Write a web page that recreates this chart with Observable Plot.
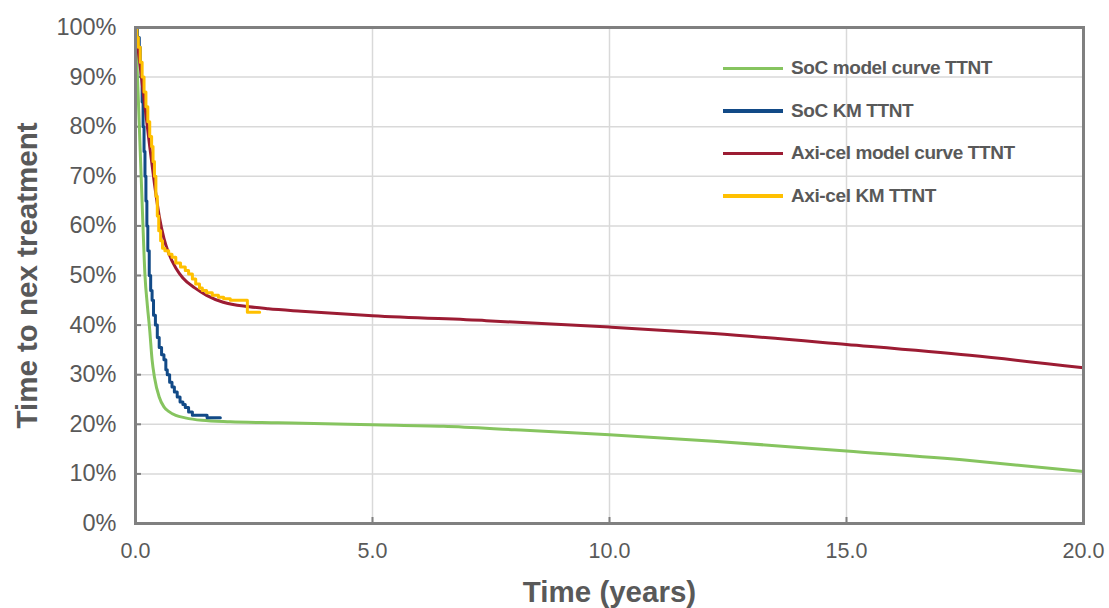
<!DOCTYPE html>
<html>
<head>
<meta charset="utf-8">
<script src="https://cdn.jsdelivr.net/npm/d3@7"></script>
<script src="https://cdn.jsdelivr.net/npm/@observablehq/plot@0.6"></script>
<style>
  html, body { margin: 0; padding: 0; background: #fff; }
  #wrap { position: relative; width: 1109px; height: 608px; font-family: "Liberation Sans", Arial, sans-serif; }
  #legend { position: absolute; left: 723px; top: 47px; }
  .item { display: flex; align-items: center; height: 42.5px; }
  .sw { width: 60px; height: 3.5px; margin-right: 8px; }
  .lab { font-size: 19px; font-weight: bold; color: #595959; letter-spacing: -0.4px; white-space: nowrap; }
</style>
</head>
<body>
<div id="wrap"></div>
<script>
// ---- Data ----
const socModelTime = [0, 0.05, 0.1, 0.15, 0.2, 0.25, 0.3, 0.35, 0.4, 0.5, 0.6, 0.7, 0.85, 1.05, 1.4, 2, 3, 4, 5, 6.5, 8, 10, 12.2, 15, 17.6, 20];
const socModelSurv = [100, 88, 75, 62, 50, 44, 39, 33, 29.5, 25.5, 23.5, 22.6, 21.8, 21.3, 20.8, 20.5, 20.3, 20.1, 19.9, 19.6, 18.9, 17.9, 16.6, 14.6, 12.7, 10.5];

const socKMTime = [0, 0.04, 0.08, 0.1, 0.12, 0.14, 0.16, 0.18, 0.2, 0.22, 0.24, 0.26, 0.29, 0.32, 0.35, 0.38, 0.42, 0.46, 0.5, 0.55, 0.6, 0.64, 0.67, 0.72, 0.77, 0.82, 0.88, 0.94, 1.0, 1.05, 1.12, 1.2, 1.51, 1.79];
const socKMSurv = [100, 98, 96, 93, 90, 85, 80, 75, 70, 65, 60, 55, 50, 47, 45, 42, 40, 37.5, 35.5, 34, 33, 31, 30, 28.5, 27.5, 26.5, 25.5, 24.5, 24, 23.4, 22.5, 21.8, 21.3, 21.3];

const axiModelTime = [0, 0.1, 0.2, 0.3, 0.4, 0.5, 0.6, 0.7, 0.85, 1.0, 1.25, 1.5, 1.85, 2.4, 2.8, 3.5, 5, 7.4, 10, 12.2, 15, 17.6, 20];
const axiModelSurv = [100, 92, 84, 76, 68.5, 62, 57.5, 54.5, 51.5, 49.5, 47.5, 46, 44.6, 43.7, 43.3, 42.8, 41.9, 40.9, 39.6, 38.3, 36.1, 33.9, 31.4];

const axiKMTime = [0, 0.03, 0.06, 0.1, 0.14, 0.18, 0.22, 0.26, 0.3, 0.34, 0.37, 0.4, 0.43, 0.46, 0.49, 0.53, 0.57, 0.62, 0.7, 0.77, 0.85, 0.95, 1.05, 1.12, 1.2, 1.27, 1.35, 1.41, 1.5, 1.62, 1.75, 1.86, 2.0, 2.36, 2.62];
const axiKMSurv = [100, 98, 96, 93, 90, 87, 84, 81, 78, 76, 73, 70, 66, 62, 59, 57, 55.5, 55, 54.3, 53.7, 52.5, 51.7, 51, 50.3, 49.3, 48.3, 47.5, 47, 46.5, 46, 45.6, 45.3, 45, 42.6, 42.6];

const seriesNames = ["SoC model curve TTNT", "SoC KM TTNT", "Axi-cel model curve TTNT", "Axi-cel KM TTNT"];
const seriesColors = ["#86C45F", "#124A87", "#9C1C33", "#FFC000"];

const xTicks = [0, 5, 10, 15, 20];
const xTickLabels = ["0.0", "5.0", "10.0", "15.0", "20.0"];
const yTicks = [0, 10, 20, 30, 40, 50, 60, 70, 80, 90, 100];
const yTickLabels = ["0%", "10%", "20%", "30%", "40%", "50%", "60%", "70%", "80%", "90%", "100%"];

const toRows = (t, s) => t.map((d, i) => ({t: d, s: s[i]}));
const socModel = toRows(socModelTime, socModelSurv);
const socKM = toRows(socKMTime, socKMSurv);
const axiModel = toRows(axiModelTime, axiModelSurv);
const axiKM = toRows(axiKMTime, axiKMSurv);

const gridColor = "#D9D9D9";
const textColor = "#595959";
const frameColor = "#808080";

const chart = Plot.plot({
  width: 1109,
  height: 608,
  marginLeft: 135,
  marginRight: 26,
  marginTop: 27,
  marginBottom: 85,
  style: {fontFamily: "'Liberation Sans', Arial, sans-serif", background: "#fff", color: textColor, overflow: "visible"},
  x: {domain: [0, 20]},
  y: {domain: [0, 100]},
  marks: [
    Plot.gridY(yTicks, {stroke: gridColor, strokeOpacity: 1, strokeWidth: 1.5}),
    Plot.gridX(xTicks.slice(1, -1), {stroke: gridColor, strokeOpacity: 1, strokeWidth: 1.5}),
    Plot.axisY(yTicks, {tickSize: 0, tickPadding: 19, tickFormat: d => yTickLabels[yTicks.indexOf(d)], fontSize: 23.5, fill: textColor, label: null}),
    Plot.axisY(yTicks, {tickSize: -6, text: null, stroke: frameColor, strokeWidth: 2, label: null}),
    Plot.axisX(xTicks, {tickSize: 0, tickPadding: 19, tickFormat: d => xTickLabels[xTicks.indexOf(d)], fontSize: 21.5, fill: textColor, label: null}),
    Plot.axisX(xTicks.slice(1, -1), {tickSize: -6, text: null, stroke: frameColor, strokeWidth: 2, label: null}),
    Plot.line(socModel, {x: "t", y: "s", stroke: seriesColors[0], strokeWidth: 3, curve: "monotone-x"}),
    Plot.line(socKM, {x: "t", y: "s", stroke: seriesColors[1], strokeWidth: 3, curve: "step-after"}),
    Plot.line(axiModel, {x: "t", y: "s", stroke: seriesColors[2], strokeWidth: 3, curve: "monotone-x"}),
    Plot.line(axiKM, {x: "t", y: "s", stroke: seriesColors[3], strokeWidth: 3, curve: "step-after"}),
    Plot.frame({stroke: frameColor, strokeWidth: 3}),
    Plot.text(["Time to nex treatment"], {frameAnchor: "left", dx: -108, rotate: -90, textAnchor: "middle", lineAnchor: "middle", fontSize: 29.5, fontWeight: "bold", fill: textColor}),
    Plot.text(["Time (years)"], {frameAnchor: "bottom", dy: 69, textAnchor: "middle", lineAnchor: "middle", fontSize: 29.5, fontWeight: "bold", fill: textColor})
  ]
});

const wrap = document.getElementById("wrap");
wrap.appendChild(chart);

const legend = document.createElement("div");
legend.id = "legend";
seriesNames.forEach((name, i) => {
  const item = document.createElement("div");
  item.className = "item";
  const sw = document.createElement("div");
  sw.className = "sw";
  sw.style.background = seriesColors[i];
  const lab = document.createElement("span");
  lab.className = "lab";
  lab.textContent = name;
  item.appendChild(sw);
  item.appendChild(lab);
  legend.appendChild(item);
});
wrap.appendChild(legend);
</script>
</body>
</html>
